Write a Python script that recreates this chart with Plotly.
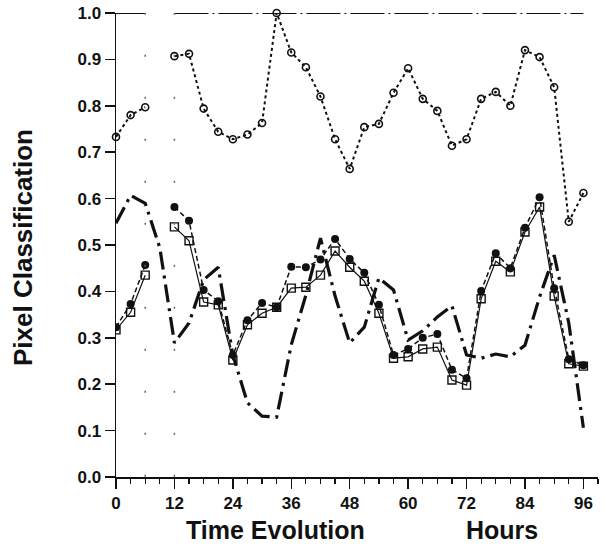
import plotly.graph_objects as go

hours = list(range(0, 97, 3))

# top line (constant 1.0), gap at 9 h
top_line = [1.0, 1.0, 1.0, None] + [1.0] * 29

# dotted series with open circles
upper = [0.733, 0.78, 0.797, None, 0.907, 0.912, 0.794, 0.744, 0.728, 0.738, 0.763,
         1.0, 0.915, 0.883, 0.82, 0.728, 0.664, 0.754, 0.761, 0.828, 0.881, 0.815,
         0.789, 0.714, 0.728, 0.815, 0.83, 0.80, 0.92, 0.905, 0.84, 0.55, 0.612]

# dashed series with filled circles
filled = [0.323, 0.373, 0.457, None, 0.582, 0.552, 0.403, 0.379, 0.263, 0.338, 0.375,
          0.366, 0.453, 0.452, 0.469, 0.513, 0.470, 0.44, 0.371, 0.263, 0.276, 0.30,
          0.308, 0.231, 0.213, 0.401, 0.482, 0.45, 0.537, 0.603, 0.407, 0.254, 0.241]

# solid series with open squares
squares = [0.317, 0.355, 0.435, None, 0.539, 0.509, 0.377, 0.371, 0.252, 0.328, 0.353,
           0.366, 0.407, 0.409, 0.435, 0.487, 0.452, 0.422, 0.353, 0.256, 0.259, 0.276,
           0.28, 0.209, 0.198, 0.384, 0.465, 0.442, 0.528, 0.582, 0.39, 0.244, 0.239]

# heavy dash-dot series (no markers)
dashdot = [0.547, 0.607, 0.59, 0.494, 0.289, 0.332, 0.425, 0.452, 0.263, 0.16, 0.131,
           0.129, 0.285, 0.392, 0.515, 0.39, 0.289, 0.323, 0.429, 0.403, 0.295, 0.315,
           0.345, 0.369, 0.263, 0.256, 0.265, 0.259, 0.284, 0.388, 0.478, 0.332, 0.106]

x_ticks = [0, 12, 24, 36, 48, 60, 72, 84, 96]
y_ticks = [0.0, 0.1, 0.2, 0.3, 0.4, 0.5, 0.6, 0.7, 0.8, 0.9, 1.0]

FONT = "Arial, Liberation Sans, Helvetica, sans-serif"
INK = "#111111"

# plot area in page pixels (body margin removed by post_script): x 116..598, y 13..477
PL, PR, PT, PB = 116, 598, 13, 477
W, H = 605, 551

fig = go.Figure()

fig.add_trace(go.Scatter(x=hours, y=top_line, mode="lines",
                         line=dict(color=INK, width=2, dash="34px,4px,2px,4px"),
                         connectgaps=False, showlegend=False, cliponaxis=False))
fig.add_trace(go.Scatter(x=hours, y=dashdot, mode="lines",
                         line=dict(color=INK, width=3.2, dash="18px,6px,3px,6px"),
                         showlegend=False))
fig.add_trace(go.Scatter(x=hours, y=upper, mode="lines+markers",
                         line=dict(color=INK, width=2, dash="dot"),
                         marker=dict(symbol="circle-open", size=7, color=INK,
                                     line=dict(width=1.6)),
                         connectgaps=False, showlegend=False, cliponaxis=False))
fig.add_trace(go.Scatter(x=hours, y=squares, mode="lines+markers",
                         line=dict(color=INK, width=1.2),
                         marker=dict(symbol="square-open", size=8, color=INK,
                                     line=dict(width=1.4)),
                         connectgaps=False, showlegend=False))
fig.add_trace(go.Scatter(x=hours, y=filled, mode="lines+markers",
                         line=dict(color=INK, width=1.5, dash="5px,3px"),
                         marker=dict(symbol="circle", size=8, color=INK),
                         connectgaps=False, showlegend=False))

# sparse dotted markers of the data gap
for gx in (6, 12):
    fig.add_shape(type="line", x0=gx, x1=gx, y0=-0.09, y1=1.0,
                  xref="x", yref="y",
                  line=dict(color="#666666", width=1.5, dash="2px,40px"))


def px_to_paper(px, py):
    return (px - PL) / (PR - PL), 1 - (py - PT) / (PB - PT)


def title_ann(text, px, py, size, angle=0):
    x, y = px_to_paper(px, py)
    return dict(text=text, x=x, y=y, xref="paper", yref="paper",
                xanchor="center", yanchor="middle", textangle=angle,
                showarrow=False,
                font=dict(size=size, family=FONT, weight="bold", color=INK))


fig.update_layout(
    width=W, height=H,
    margin=dict(l=PL, r=W - PR, t=PT, b=H - PB, autoexpand=False),
    paper_bgcolor="white", plot_bgcolor="white",
    font=dict(family=FONT, color=INK),
    hovermode=False,
    xaxis=dict(range=[0, 99], tickvals=x_ticks, ticktext=[str(v) for v in x_ticks],
               automargin=False,
               showgrid=False, zeroline=False, showline=True, linecolor=INK, linewidth=1.5,
               ticks="outside", ticklen=10, tickwidth=1.5, tickcolor=INK,
               ticklabeloverflow="allow",
               tickfont=dict(size=17, family=FONT, weight="bold", color=INK),
               minor=dict(dtick=3, tick0=0, ticks="outside", ticklen=5, tickwidth=1.2,
                          tickcolor=INK, showgrid=False)),
    yaxis=dict(range=[0, 1.0], tickvals=y_ticks, ticktext=[f"{v:.1f}" for v in y_ticks],
               automargin=False,
               showgrid=False, zeroline=False, showline=True, linecolor=INK, linewidth=1.5,
               ticks="outside", ticklen=10, tickwidth=1.5, tickcolor=INK,
               ticklabeloverflow="allow",
               tickfont=dict(size=17, family=FONT, weight="bold", color=INK)),
    annotations=[
        title_ann("Time Evolution", 275, 530, 25),
        title_ann("Hours", 502, 530, 25),
        title_ann("Pixel Classification", 23, 248, 26, angle=-90),
    ],
)

fig.write_html("out.html",
               config={"displayModeBar": False, "staticPlot": True},
               post_script="document.body.style.margin='0';"
                           "document.body.style.overflow='hidden';")
